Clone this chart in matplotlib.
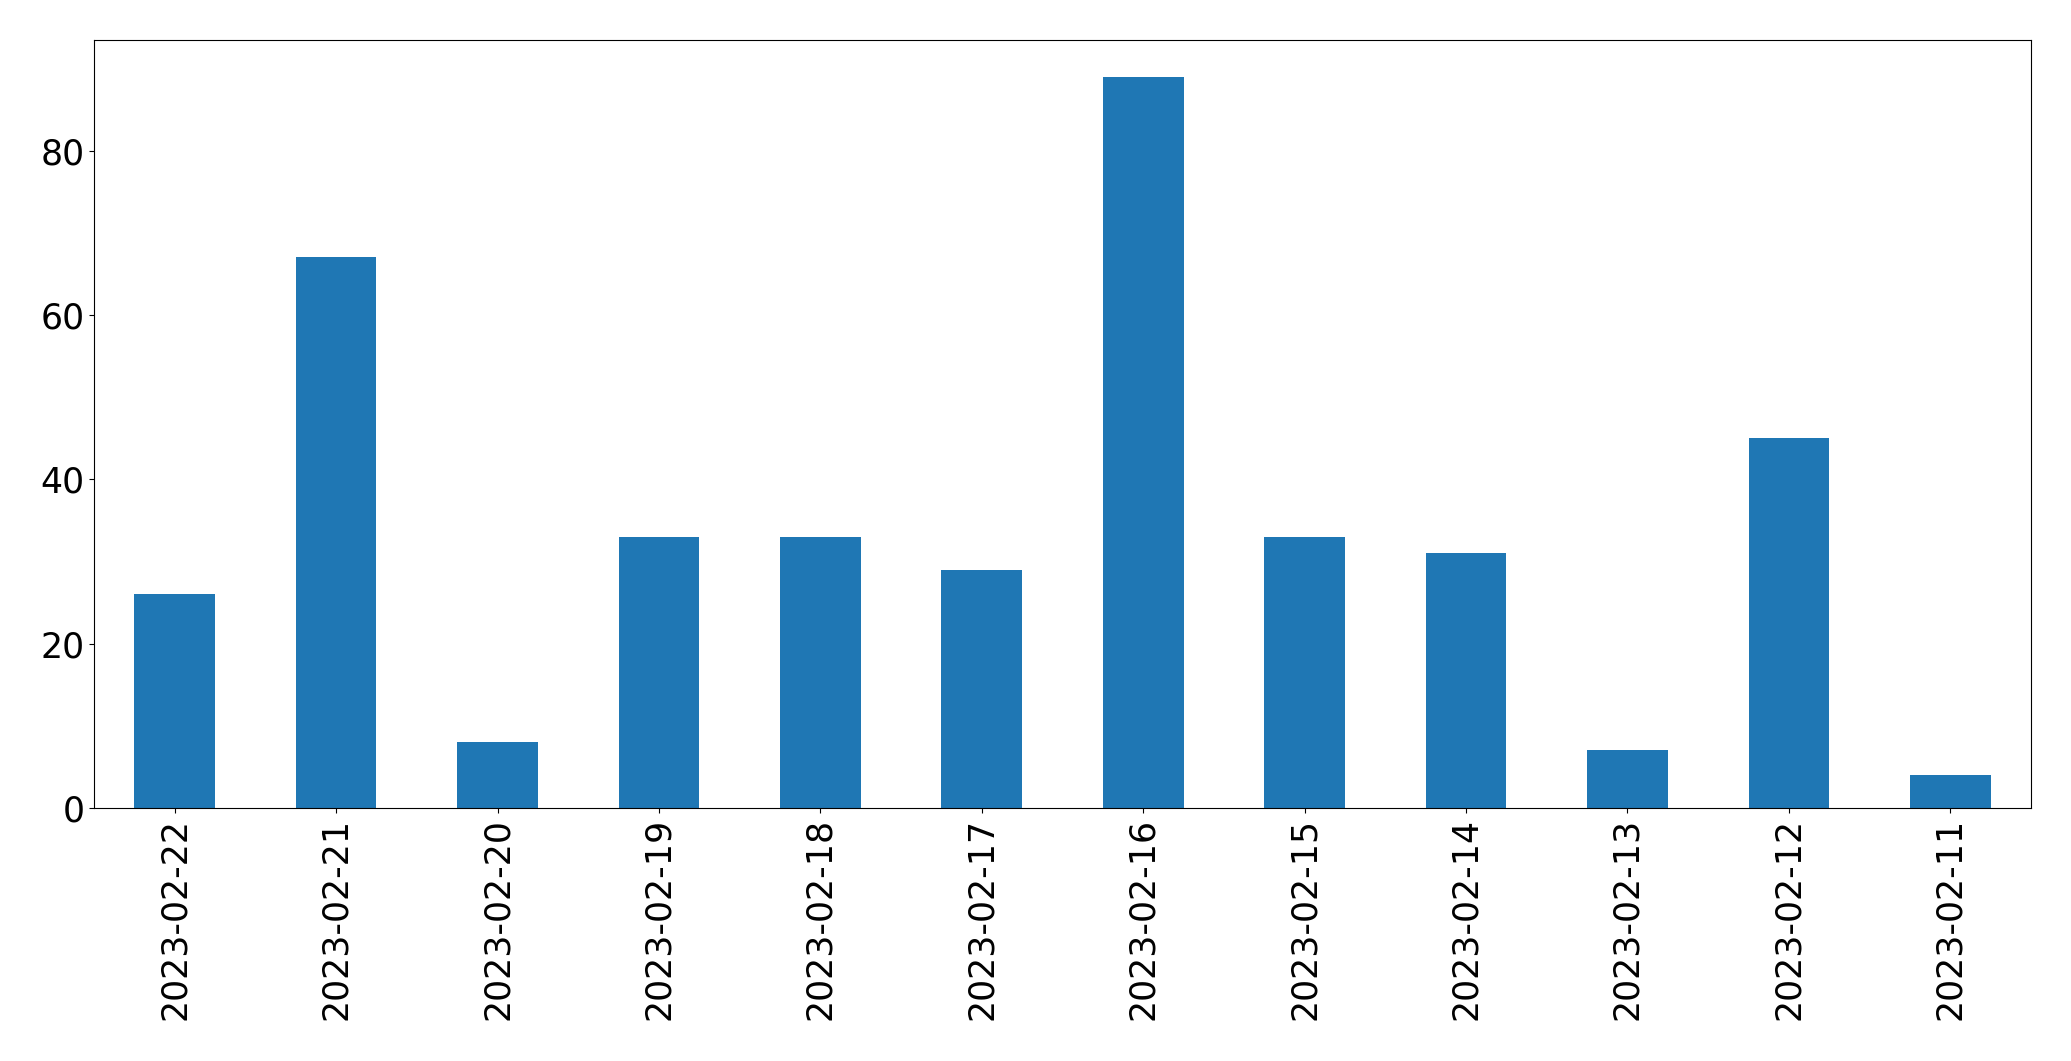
import matplotlib
matplotlib.use("Agg")
import matplotlib.pyplot as plt
import pandas as pd

dates = ["2023-02-22", "2023-02-21", "2023-02-20", "2023-02-19", "2023-02-18",
         "2023-02-17", "2023-02-16", "2023-02-15", "2023-02-14", "2023-02-13",
         "2023-02-12", "2023-02-11"]
counts = [26, 67, 8, 33, 33, 29, 89, 33, 31, 7, 45, 4]

s = pd.Series(counts, index=dates)

fig = plt.figure(figsize=(20.71, 10.61), dpi=100)
W, H = 2071, 1061
ax = fig.add_axes([94 / W, 1 - 808 / H, (2031 - 94) / W, (808 - 40) / H])
s.plot.bar(ax=ax, color="#1f77b4")
ax.tick_params(axis="both", labelsize=25)
ax.set_xlabel("")

fig.savefig("out.png", dpi=100)
